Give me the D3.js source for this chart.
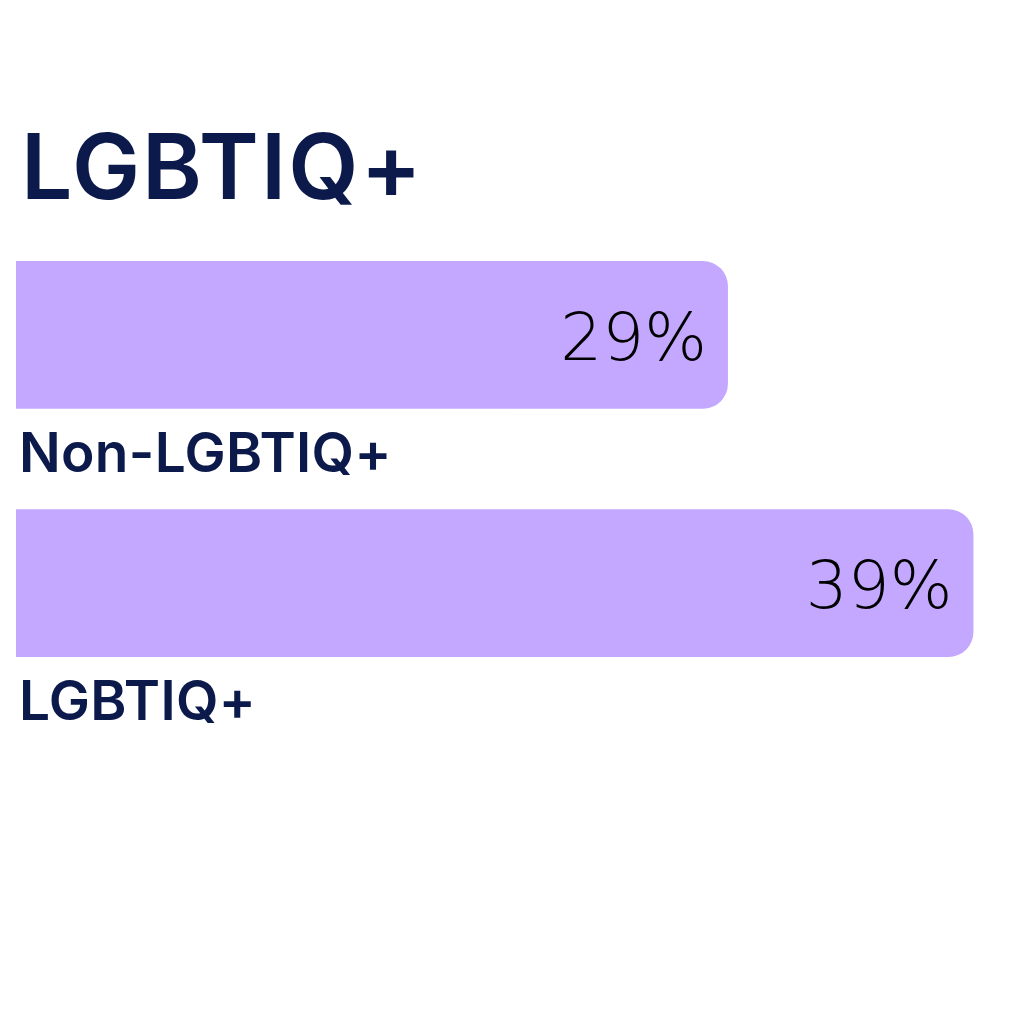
<!DOCTYPE html>
<html>
<head>
<meta charset="utf-8">
<script src="https://cdn.jsdelivr.net/npm/d3@7"></script>
<style>
  html, body { margin: 0; padding: 0; background: #ffffff; }
  svg { display: block; }
</style>
</head>
<body>
<svg id="chart" width="1024" height="1024"></svg>
<script>
const title = "LGBTIQ+";
const categories = ["Non-LGBTIQ+", "LGBTIQ+"];
const values = [29, 39];
const valueLabels = ["29%", "39%"];

const svg = d3.select("#chart");
const navy = "#0b1a4a";
const purple = "#c4a8ff";

const x = d3.scaleLinear().domain([0, 40]).range([16, 998]);
const y = d3.scaleBand().domain(categories).range([261, 657]).paddingInner(0.405).paddingOuter(0);
const r = 25;

svg.append("text")
  .attr("x", 21).attr("y", 199)
  .attr("font-family", "Inter, 'Liberation Sans', Arial, sans-serif")
  .attr("font-weight", 600)
  .attr("font-size", 91)
  .attr("letter-spacing", 2)
  .attr("fill", navy)
  .text(title);

function barPath(x0, x1, y0, h) {
  const p = d3.path();
  p.moveTo(x0, y0);
  p.lineTo(x1 - r, y0);
  p.arcTo(x1, y0, x1, y0 + r, r);
  p.lineTo(x1, y0 + h - r);
  p.arcTo(x1, y0 + h, x1 - r, y0 + h, r);
  p.lineTo(x0, y0 + h);
  p.closePath();
  return p.toString();
}

const g = svg.append("g");
categories.forEach((c, i) => {
  const y0 = y(c), h = y.bandwidth();
  g.append("path")
    .attr("d", barPath(x(0), x(values[i]), y0, h))
    .attr("fill", purple);
  g.append("text")
    .attr("x", x(values[i]) - 21)
    .attr("y", y0 + h / 2 + 25)
    .attr("text-anchor", "end")
    .attr("font-family", "'DejaVu Sans', sans-serif")
    .attr("font-weight", 200)
    .attr("font-size", 66)
    .attr("fill", "#000000")
    .text(valueLabels[i]);
  g.append("text")
    .attr("x", 19)
    .attr("y", y0 + h + 63)
    .attr("font-family", "Inter, 'Liberation Sans', Arial, sans-serif")
    .attr("font-weight", 600)
    .attr("font-size", 55)
    .attr("letter-spacing", 0.3)
    .attr("fill", navy)
    .text(c);
});
</script>
</body>
</html>
